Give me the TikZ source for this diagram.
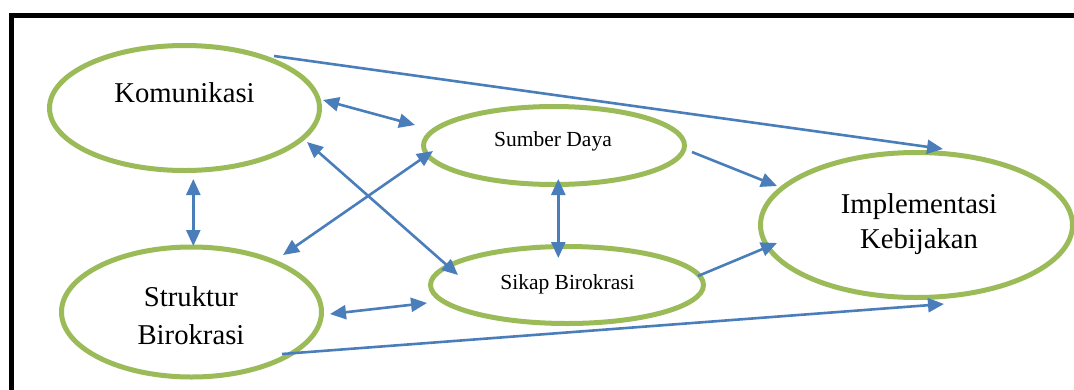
\documentclass[tikz,border=0pt]{standalone}
\usepackage{fontspec}
\setmainfont{Liberation Serif}
\usetikzlibrary{arrows.meta,calc,shapes.geometric}
\definecolor{ringgreen}{HTML}{9BBB59}
\definecolor{linkblue}{HTML}{4A7EBB}
\begin{document}
\begin{tikzpicture}[x=1pt,y=-1pt,
  ring/.style={draw=ringgreen, line width=5pt, ellipse, inner sep=0pt, outer sep=0pt},
  big/.style={font=\fontsize{28.7}{34}\selectfont, inner sep=0pt, anchor=base},
  small/.style={font=\fontsize{21.5}{26}\selectfont, inner sep=0pt, anchor=base},
  head/.tip={Triangle[length=16pt,width=14pt]},
  link/.style={draw=linkblue, line width=2.6pt, -head},
  twoway/.style={draw=linkblue, line width=2.6pt, head-head}]
\useasboundingbox (0,0) rectangle (1074,389);
\clip (0,0) rectangle (1074,389);

% frame
\draw[line width=5pt, line join=miter] (11.5,400) -- (11.5,15.5) -- (1090,15.5);

% factor ellipses
\node[ring, minimum width=270pt, minimum height=125pt] (kom) at (184.5,108) {};
\node[ring, minimum width=261pt, minimum height=78pt]  (sum) at (554,145.5) {};
\node[ring, minimum width=260pt, minimum height=130pt] (str) at (191.5,312) {};
\node[ring, minimum width=273pt, minimum height=77pt]  (sik) at (567,285) {};
\node[ring, minimum width=312pt, minimum height=145pt] (imp) at (916.5,225) {};

% labels
\node[big]   (komT)  at (184.5,102) {Komunikasi};
\node[small] (sumT)  at (553,146)   {Sumber Daya};
\node[small] (sikT)  at (567.5,289) {Sikap Birokrasi};
\node[big]   (strT1) at (191,306)   {Struktur};
\node[big]   (strT2) at (191,344)   {Birokrasi};
\node[big]   (impT1) at (919,213)   {Implementasi};
\node[big]   (impT2) at (919,248)   {Kebijakan};

% relations
\draw[twoway] ($(kom)+(138.5,-8)$)  -- ($(sum)+(-139,-20.5)$);
\draw[link]   ($(kom)+(89.5,-52)$)  -- ($(imp)+(26.5,-76)$);
\draw[twoway] ($(kom)+(8.8,71)$)    -- ($(str)+(1.8,-66)$);
\draw[twoway] ($(kom)+(122.5,34)$)  -- ($(sik)+(-109,-10)$);
\draw[twoway] ($(str)+(91.5,-57)$)  -- ($(sum)+(-121,5.5)$);
\draw[twoway] ($(sum)+(4.3,33.5)$)  -- ($(sik)+(-8.7,-27)$);
\draw[link]   ($(sum)+(138,6.5)$)   -- ($(imp)+(-139.5,-39)$);
\draw[twoway] ($(str)+(138.5,2)$)   -- ($(sik)+(-140,18)$);
\draw[link]   ($(sik)+(131,-9)$)    -- ($(imp)+(-139.5,18)$);
\draw[link]   ($(str)+(90.5,42)$)   -- ($(imp)+(27.5,79)$);
\end{tikzpicture}
\end{document}
